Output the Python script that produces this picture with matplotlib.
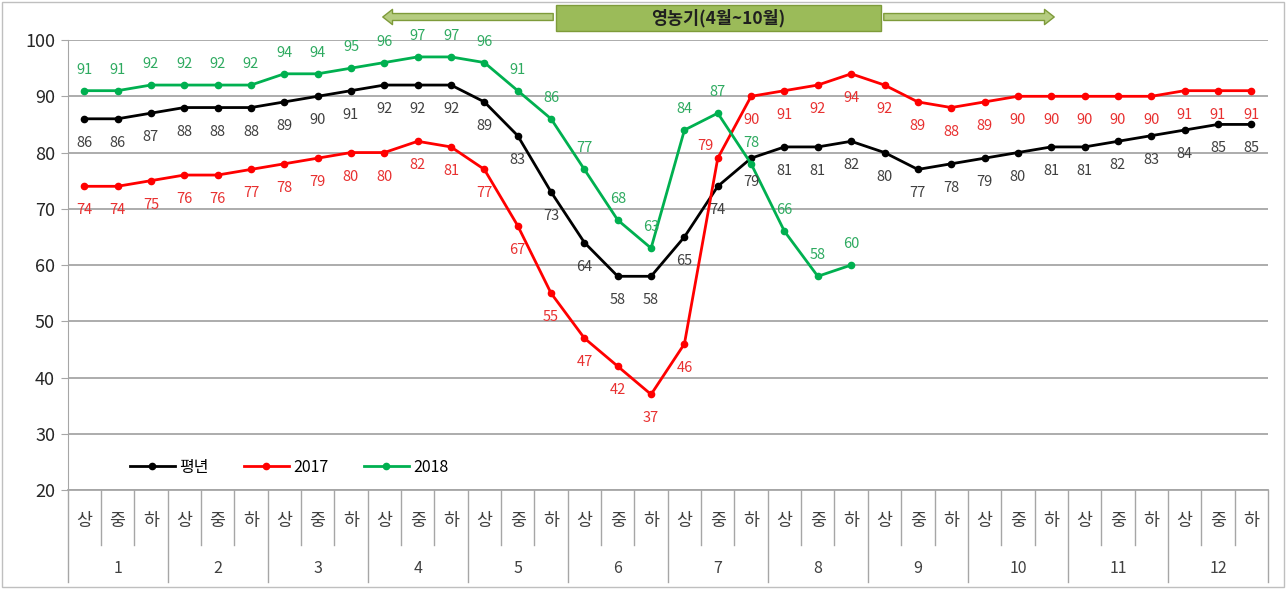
import matplotlib.pyplot as plt
import matplotlib.transforms as mtransforms
from matplotlib.patches import Rectangle, FancyArrowPatch

plt.rcParams['font.family'] = ['Noto Sans CJK KR', 'DejaVu Sans']

# ----------------- Data -----------------
months = [str(m) for m in range(1, 13)]
dekads = ["상", "중", "하"]

normal = [86, 86, 87, 88, 88, 88, 89, 90, 91, 92, 92, 92,
          89, 83, 73, 64, 58, 58, 65, 74, 79, 81, 81, 82,
          80, 77, 78, 79, 80, 81, 81, 82, 83, 84, 85, 85]
y2017 = [74, 74, 75, 76, 76, 77, 78, 79, 80, 80, 82, 81,
         77, 67, 55, 47, 42, 37, 46, 79, 90, 91, 92, 94,
         92, 89, 88, 89, 90, 90, 90, 90, 90, 91, 91, 91]
y2018 = [91, 91, 92, 92, 92, 92, 94, 94, 95, 96, 97, 97,
         96, 91, 86, 77, 68, 63, 84, 87, 78, 66, 58, 60]

series = [
    ("평년", normal, "#000000", "#404040", -24),
    ("2017", y2017, "#FF0000", "#E83030", -24),
    ("2018", y2018, "#00B050", "#2EAA60", 21),
]
# a few labels moved by hand in the original
label_shift = {("2017", 19): (-12, 12)}

# ----------------- Figure -----------------
fig = plt.figure(figsize=(12.86, 5.89), dpi=100)
ax = fig.add_axes([0.0525, 0.168, 0.9335, 0.764])

grid_col = "#A6A6A6"
x = list(range(len(normal)))

for name, vals, col, lcol, off in series:
    xs = x[:len(vals)]
    ax.plot(xs, vals, color=col, lw=2.0, marker="o", ms=4.5, label=name, zorder=3)
    for i, v in zip(xs, vals):
        dx, dy = label_shift.get((name, i), (0, off))
        ax.annotate(str(v), (i, v), xytext=(dx, dy), textcoords="offset pixels",
                    ha="center", va="center", fontsize=10.5, color=lcol, zorder=4)

ax.set_xlim(-0.5, len(normal) - 0.5)
ax.set_ylim(20, 100)
ax.set_yticks(range(20, 101, 10))
ax.tick_params(axis="y", labelsize=13, length=5, color=grid_col, pad=4,
               labelcolor="#262626")
ax.tick_params(axis="x", bottom=False, labelbottom=False)
ax.yaxis.grid(True, color=grid_col, lw=1.3)
for s in ["top", "right"]:
    ax.spines[s].set_visible(False)
ax.spines["left"].set_color(grid_col)
ax.spines["bottom"].set_color(grid_col)
ax.spines["bottom"].set_linewidth(1.3)

# ----------------- Two-level category axis -----------------
trans = mtransforms.blended_transform_factory(ax.transData, ax.transAxes)
for i in x:
    ax.text(i, -0.068, dekads[i % 3], transform=trans, ha="center", va="center",
            fontsize=12.5, color="#404040")
    if i > 0:
        low = -0.204 if i % 3 == 0 else -0.122
        ax.plot([i - 0.5, i - 0.5], [0, low], transform=trans, color=grid_col,
                lw=1, clip_on=False)
for m, name in enumerate(months):
    ax.text(m * 3 + 1, -0.174, name, transform=trans, ha="center", va="center",
            fontsize=11.5, color="#404040")
for xe in [-0.5, len(normal) - 0.5]:
    ax.plot([xe, xe], [0, -0.204], transform=trans, color=grid_col, lw=1, clip_on=False)

# ----------------- Legend -----------------
ax.legend(loc="lower left", bbox_to_anchor=(0.04, 0.0), ncol=3, frameon=False,
          fontsize=11.5, handlelength=2.8, columnspacing=2.2, handletextpad=0.3)

# ----------------- 영농기 banner -----------------
W, H = 1286, 589
olive = "#7E9B3A"
for x0, x1 in [(556, 380), (881, 1057)]:
    arr = FancyArrowPatch((x0 / W, 1 - 17 / H), (x1 / W, 1 - 17 / H),
                          transform=fig.transFigure,
                          arrowstyle="simple,head_length=7,head_width=11,tail_width=5",
                          fc="#B5CC80", ec=olive, lw=1, mutation_scale=1)
    fig.patches.append(arr)
fig.patches.append(Rectangle((556 / W, 1 - 31 / H), 325 / W, 26 / H,
                             transform=fig.transFigure, fc="#9BBB59", ec=olive, lw=1))
fig.text(718 / W, 1 - 18 / H, "영농기(4월~10월)", ha="center", va="center",
         fontsize=12.5, fontweight="bold", color="#1F1F1F")

# chart border
fig.patches.append(Rectangle((2 / W, 2 / H), 1 - 4 / W, 1 - 4 / H,
                             transform=fig.transFigure, fill=False, ec="#BFBFBF", lw=1))

plt.savefig("out.png", dpi=100)
